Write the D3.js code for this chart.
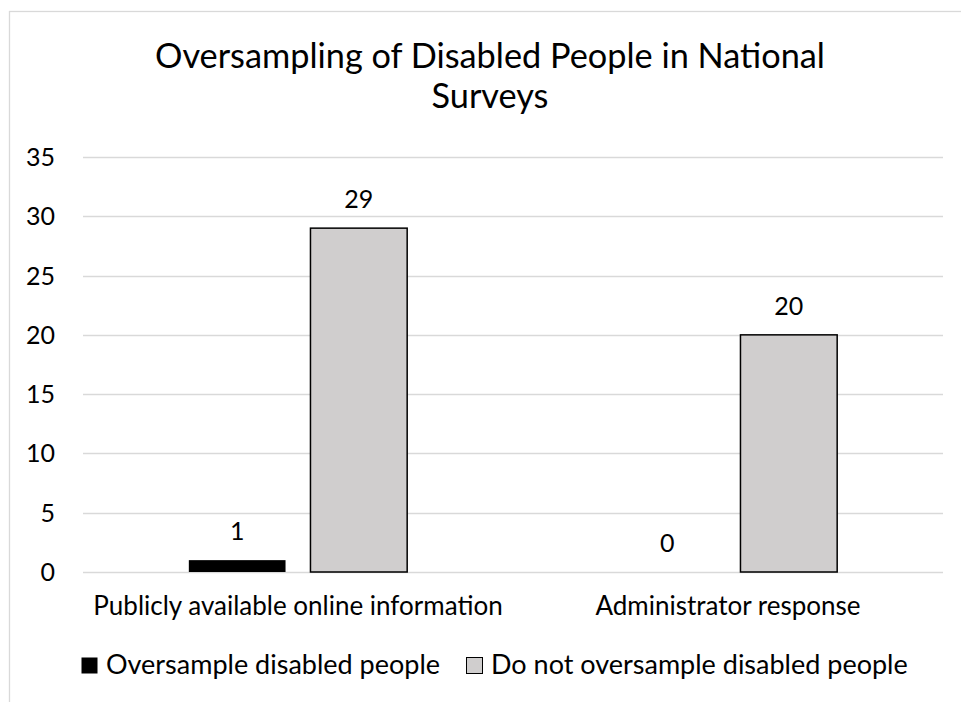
<!DOCTYPE html>
<html>
<head>
<meta charset="utf-8">
<script src="https://cdn.jsdelivr.net/npm/d3@7"></script>
<style>
  body { margin: 0; background: #fff; }
  text { font-family: Lato, "Open Sans", sans-serif; fill: #000; }
</style>
</head>
<body>
<svg id="chart" width="961" height="702"></svg>
<script>
var categories = ["Publicly available online information", "Administrator response"];
var seriesNames = ["Oversample disabled people", "Do not oversample disabled people"];
var oversample = [1, 0];
var notOversample = [29, 20];
var yTicks = [0, 5, 10, 15, 20, 25, 30, 35];
var titleLines = ["Oversampling of Disabled People in National", "Surveys"];

var colors = ["#000000", "#d0cece"];

var svg = d3.select("#chart");

// chart area border (runs off the picture on right/bottom)
svg.append("rect")
    .attr("x", 9.5).attr("y", 11.5)
    .attr("width", 1000).attr("height", 1000)
    .attr("fill", "none")
    .attr("stroke", "#d9d9d9")
    .attr("stroke-width", 1.3);

var plot = { left: 83, right: 943, top: 157, bottom: 572 };

var x0 = d3.scaleBand().domain(categories).range([plot.left, plot.right]);
var x1 = d3.scaleBand().domain([0, 1]).range([0, x0.bandwidth()]).paddingInner(0.205).paddingOuter(0.87);
var y = d3.scaleLinear().domain([0, 35]).range([plot.bottom, plot.top]);

// title
svg.append("g").selectAll("text")
    .data(titleLines)
  .enter().append("text")
    .attr("x", 490)
    .attr("y", function (d, i) { return 68 + i * 40; })
    .attr("text-anchor", "middle")
    .style("font-size", "34.3px")
    .text(function (d) { return d; });

// gridlines
svg.append("g").selectAll("line")
    .data(yTicks)
  .enter().append("line")
    .attr("x1", plot.left).attr("x2", plot.right)
    .attr("y1", function (d) { return Math.round(y(d)) + 0.5; })
    .attr("y2", function (d) { return Math.round(y(d)) + 0.5; })
    .attr("stroke", "#d9d9d9")
    .attr("stroke-width", 1.3);

// y axis labels
svg.append("g").selectAll("text")
    .data(yTicks)
  .enter().append("text")
    .attr("x", 55)
    .attr("y", function (d) { return y(d) + 9; })
    .attr("text-anchor", "end")
    .style("font-size", "25px")
    .text(function (d) { return d; });

var rows = categories.map(function (c, i) {
  return { cat: c, vals: [oversample[i], notOversample[i]] };
});

var group = svg.append("g").selectAll("g")
    .data(rows)
  .enter().append("g")
    .attr("transform", function (d) { return "translate(" + x0(d.cat) + ",0)"; });

function pairs(d) { return d.vals.map(function (v, k) { return { k: k, v: v }; }); }

group.selectAll("rect")
    .data(function (d) { return pairs(d).filter(function (p) { return p.v > 0; }); })
  .enter().append("rect")
    .attr("x", function (d) { return x1(d.k); })
    .attr("width", x1.bandwidth())
    .attr("y", function (d) { return y(d.v); })
    .attr("height", function (d) { return y(0) - y(d.v); })
    .attr("fill", function (d) { return colors[d.k]; })
    .attr("stroke", function (d) { return d.k === 1 ? "#000" : "none"; })
    .attr("stroke-width", 1.5);

group.selectAll("text")
    .data(pairs)
  .enter().append("text")
    .attr("x", function (d) { return x1(d.k) + x1.bandwidth() / 2; })
    .attr("y", function (d) { return y(d.v) - 20; })
    .attr("text-anchor", "middle")
    .style("font-size", "25px")
    .text(function (d) { return d.v; });

// category labels
svg.append("g").selectAll("text")
    .data(categories)
  .enter().append("text")
    .attr("x", function (d) { return x0(d) + x0.bandwidth() / 2; })
    .attr("y", 615)
    .attr("text-anchor", "middle")
    .style("font-size", "26px")
    .text(function (d) { return d; });

// legend
var legendX = [81, 466];
var legend = svg.append("g").selectAll("g")
    .data(seriesNames)
  .enter().append("g")
    .attr("transform", function (d, i) { return "translate(" + legendX[i] + ",657)"; });

legend.append("rect")
    .attr("x", 0.5).attr("y", 0.5)
    .attr("width", 16).attr("height", 16)
    .attr("fill", function (d, i) { return colors[i]; })
    .attr("stroke", function (d, i) { return i === 1 ? "#000" : "none"; })
    .attr("stroke-width", 1);

legend.append("text")
    .attr("x", 25)
    .attr("y", 17)
    .style("font-size", "27px")
    .text(function (d) { return d; });
</script>
</body>
</html>
